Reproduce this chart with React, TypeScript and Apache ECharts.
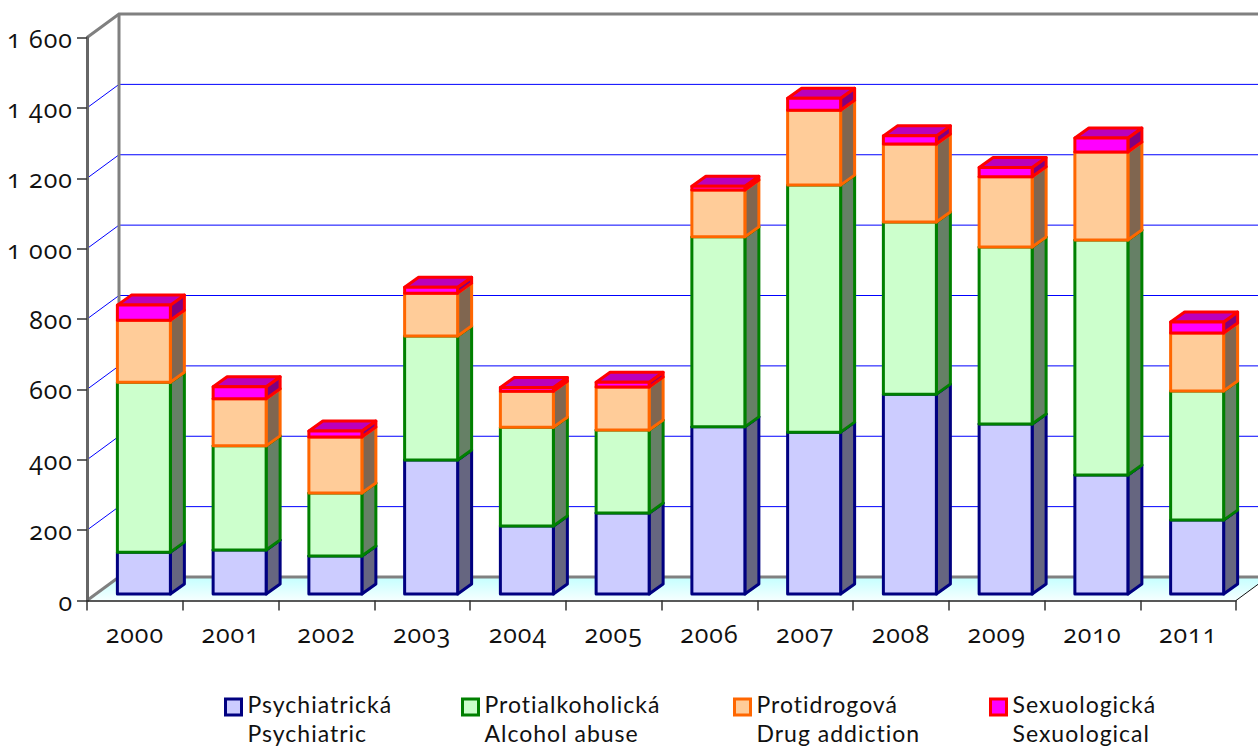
import React, { useEffect, useRef } from "react";
import * as echarts from "echarts";

const years = ["2000", "2001", "2002", "2003", "2004", "2005", "2006", "2007", "2008", "2009", "2010", "2011"];
const psychiatric = [119, 125, 108, 381, 193, 230, 475, 460, 568, 483, 338, 210];
const alcohol = [483, 296, 179, 352, 281, 236, 540, 702, 489, 503, 668, 367];
const drug = [176, 134, 159, 122, 102, 122, 133, 213, 222, 200, 250, 165];
const sexual = [43, 34, 17, 17, 11, 14, 11, 34, 23, 26, 40, 31];
const yTicks = [200, 400, 600, 800, 1000, 1200, 1400];
const names = ["Psychiatrická\nPsychiatric", "Protialkoholická\nAlcohol abuse", "Protidrogová\nDrug addiction", "Sexuologická\nSexuological"];
const fills = ["#CCCCFF", "#CCFFCC", "#FFCC99", "#FF00FF"];
const borders = ["#000080", "#008000", "#FF6600", "#FF0000"];
const sides = ["#666680", "#668066", "#806650", "#800080"];
const tops = ["#A3A3CC", "#A3CCA3", "#CCA37A", "#BB00BB"];
const legendLefts = [224, 461, 733, 989];

const DX = 32, DY = -23.5;      // full depth of the plot
const BAR_OX = 9, BAR_OY = -6.5; // bar's front face relative to the front plane
const BAR_DX = 14, BAR_DY = -10; // bar depth
const FONT = "'Open Sans'";

const legendIcon = "path://M0,9.5H16V25.5H0Z M0,0L0,0 M16,58L16,58";

export default function App() {
  const ref = useRef<HTMLDivElement>(null);
  useEffect(() => {
    const chart = echarts.init(ref.current!, undefined, { renderer: "svg" });
    const all = [psychiatric, alcohol, drug, sexual];
    const barSeries = all.map((vals, s) => ({
      type: "custom",
      name: names[s],
      z: 5,
      data: vals.map((v, i) => {
        let base = 0;
        for (let k = 0; k < s; k++) base += all[k][i];
        return [i, base, base + v];
      }),
      encode: { x: 0, y: [1, 2] },
      renderItem: (_: any, api: any) => {
        const i = api.value(0);
        const p0 = api.coord([i, api.value(1)]);
        const p1 = api.coord([i, api.value(2)]);
        const w = 53;
        const x0 = p0[0] - w / 2 + BAR_OX, x1 = x0 + w;
        const yb = p0[1] + BAR_OY, yt = p1[1] + BAR_OY;
        const st = { stroke: borders[s], lineWidth: 3, lineJoin: "round" };
        return {
          type: "group",
          children: [
            { type: "polygon", shape: { points: [[x1, yb], [x1 + BAR_DX, yb + BAR_DY], [x1 + BAR_DX, yt + BAR_DY], [x1, yt]] }, style: { fill: sides[s], ...st } },
            { type: "polygon", shape: { points: [[x0, yt], [x0 + BAR_DX, yt + BAR_DY], [x1 + BAR_DX, yt + BAR_DY], [x1, yt]] }, style: { fill: tops[s], ...st } },
            { type: "rect", shape: { x: x0, y: yt, width: w, height: yb - yt }, style: { fill: fills[s], ...st } },
          ],
        };
      },
    }));

    const wallSeries = {
      type: "custom",
      name: "wall",
      silent: true,
      z: 1,
      data: [[0]],
      encode: { x: 0 },
      renderItem: (_: any, api: any) => {
        const o = api.coord([0, 0]);
        const top = api.coord([0, 1600]);
        const xl = 87, xr = 1236, yo = o[1], yt = top[1];
        const grey = { stroke: "#808080", lineWidth: 3 };
        const children: any[] = [];
        children.push({
          type: "polygon",
          shape: { points: [[xl, yo], [xl + DX, yo + DY], [xr + DX, yo + DY], [xr, yo]] },
          style: { fill: new echarts.graphic.LinearGradient(0, 0, 0, 1, [{ offset: 0, color: "#C4FFFF" }, { offset: 1, color: "#F6FFFF" }]) },
        });
        yTicks.forEach((t) => {
          const y = api.coord([0, t])[1];
          children.push({ type: "polyline", shape: { points: [[xl, y], [xl + DX, y + DY], [xr + DX, y + DY]] }, style: { stroke: "#0000FF", lineWidth: 1, fill: "none" } });
        });
        children.push({ type: "line", shape: { x1: xl + DX, y1: yo + DY, x2: xr + DX, y2: yo + DY }, style: grey });
        children.push({ type: "line", shape: { x1: xl, y1: yo, x2: xl + DX, y2: yo + DY }, style: grey });
        children.push({ type: "polyline", shape: { points: [[xl, yt], [xl + DX, yt + DY], [xr + DX, yt + DY]] }, style: { ...grey, fill: "none" } });
        children.push({ type: "line", shape: { x1: xl + DX, y1: yt + DY, x2: xl + DX, y2: yo + DY }, style: grey });
        children.push({ type: "line", shape: { x1: xr, y1: yo, x2: xr + DX, y2: yo + DY }, style: { stroke: "#111", lineWidth: 1 } });
        return { type: "group", children };
      },
    };

    chart.setOption({
      animation: false,
      backgroundColor: "#fff",
      grid: { left: 87, right: 22, top: 37.5, bottom: 145.5 },
      xAxis: {
        type: "category",
        data: years,
        boundaryGap: true,
        axisLine: { lineStyle: { color: "#222", width: 1.5 } },
        axisTick: { show: true, length: 10, lineStyle: { color: "#333", width: 1.5 }, interval: 0 },
        axisLabel: { interval: 0, margin: 20, fontSize: 25, fontFamily: FONT, color: "#111" },
        z: 10,
      },
      yAxis: {
        type: "value",
        min: 0,
        max: 1600,
        interval: 200,
        splitLine: { show: false },
        axisLine: { show: true, lineStyle: { color: "#666", width: 3 } },
        axisTick: { show: true, length: 10, lineStyle: { color: "#333", width: 1.5 } },
        axisLabel: { margin: 14, fontSize: 25, fontFamily: FONT, color: "#111", formatter: (v: number) => (v >= 1000 ? String(v)[0] + " " + String(v).slice(1) : String(v)) },
        z: 10,
      },
      legend: names.map((n, s) => ({
        left: legendLefts[s],
        top: 688,
        orient: "horizontal",
        selectedMode: false,
        itemWidth: 16,
        itemHeight: 58,
        padding: 0,
        textStyle: { fontFamily: "Lato", fontSize: 23, color: "#111", lineHeight: 29, padding: [0, 0, 0, 1] },
        data: [{ name: n, icon: legendIcon, itemStyle: { color: fills[s], borderColor: borders[s], borderWidth: 3 } }],
      })),
      series: [wallSeries, ...barSeries],
    });
    return () => chart.dispose();
  }, []);
  return <div ref={ref} style={{ position: "fixed", left: 0, top: 0, width: 1258, height: 746, fontFeatureSettings: '"onum"', letterSpacing: "1px" }} />;
}
